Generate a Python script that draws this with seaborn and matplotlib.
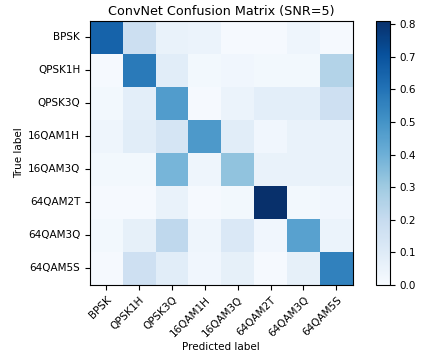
import numpy as np
import pandas as pd
import matplotlib
matplotlib.use("Agg")
import matplotlib.pyplot as plt
import seaborn as sns

classes = ["BPSK", "QPSK1H", "QPSK3Q", "16QAM1H", "16QAM3Q", "64QAM2T", "64QAM3Q", "64QAM5S"]

# Row-normalised confusion values (rows: true label, columns: predicted label)
row_bpsk    = [0.65, 0.18, 0.06, 0.05, 0.01, 0.01, 0.04, 0.01]
row_qpsk1h  = [0.01, 0.58, 0.09, 0.02, 0.03, 0.02, 0.02, 0.25]
row_qpsk3q  = [0.02, 0.08, 0.47, 0.01, 0.05, 0.08, 0.08, 0.17]
row_16q1h   = [0.04, 0.09, 0.14, 0.48, 0.09, 0.03, 0.06, 0.06]
row_16q3q   = [0.02, 0.02, 0.38, 0.04, 0.33, 0.06, 0.06, 0.06]
row_64q2t   = [0.01, 0.01, 0.06, 0.01, 0.02, 0.81, 0.02, 0.03]
row_64q3q   = [0.02, 0.07, 0.22, 0.04, 0.12, 0.03, 0.45, 0.05]
row_64q5s   = [0.01, 0.17, 0.09, 0.03, 0.07, 0.01, 0.07, 0.56]

cbar_ticks = [0.0, 0.1, 0.2, 0.3, 0.4, 0.5, 0.6, 0.7, 0.8]

cm = pd.DataFrame(
    [row_bpsk, row_qpsk1h, row_qpsk3q, row_16q1h, row_16q3q, row_64q2t, row_64q3q, row_64q5s],
    index=classes, columns=classes,
)

plt.rcParams["font.family"] = ["DejaVu Sans"]
fig = plt.figure(figsize=(4.22, 3.57), dpi=100)
ax = fig.add_axes([0.213, 0.2017, 0.623, 0.7395])
cax = fig.add_axes([0.891, 0.2017, 0.033, 0.7395])

sns.heatmap(cm, ax=ax, cbar_ax=cax, cmap="Blues", vmin=0.0, vmax=cm.values.max(),
            square=False, cbar_kws={"ticks": cbar_ticks})

# frame around the matrix
for s in ax.spines.values():
    s.set_visible(True)
    s.set_color("black")
    s.set_linewidth(0.8)

cbar = ax.collections[0].colorbar
cbar.outline.set_visible(True)
cbar.outline.set_linewidth(0.8)
cbar.outline.set_edgecolor("black")

ax.tick_params(axis="both", length=3.5, width=0.8, labelsize=7.5, direction="out")
ax.set_xticklabels(classes, rotation=45, ha="right", rotation_mode="anchor")
ax.set_yticklabels(classes, rotation=0)
cax.tick_params(length=3.5, width=0.8, labelsize=7.5)
cax.set_yticklabels([f"{t:.1f}" for t in cbar_ticks])

ax.set_title("ConvNet Confusion Matrix (SNR=5)", fontsize=9.2, pad=4)
ax.set_xlabel("Predicted label", fontsize=7.5, labelpad=2)
ax.set_ylabel("True label", fontsize=7.5, labelpad=3)

fig.savefig("out.png", dpi=100)
